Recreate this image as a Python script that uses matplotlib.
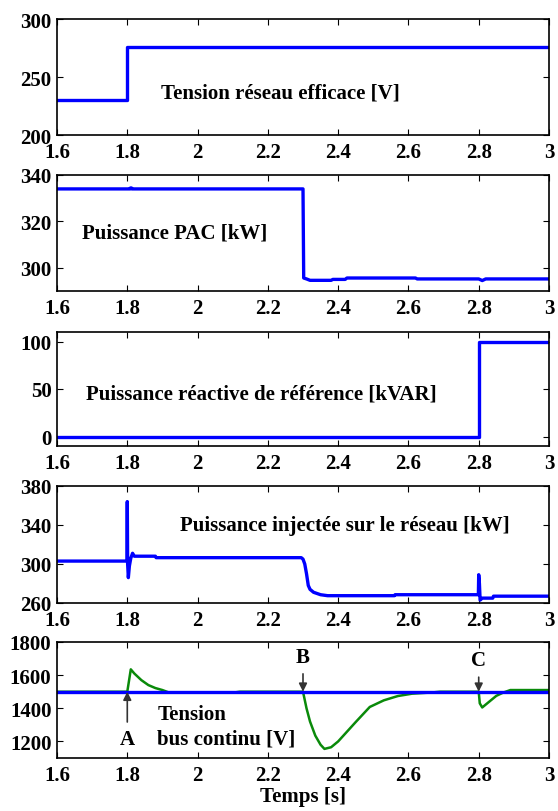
import matplotlib
matplotlib.use('Agg')
import matplotlib.pyplot as plt

plt.rcParams['font.family'] = ['Liberation Serif', 'DejaVu Serif']
plt.rcParams['font.weight'] = 'bold'
plt.rcParams['axes.labelweight'] = 'bold'
plt.rcParams['font.size'] = 15

# Tension reseau efficace [V]
t_grid = [1.6, 1.8, 1.8, 3.0]
v_grid = [230, 230, 276, 276]

# Puissance PAC [kW]
t_pac = [1.6, 1.808, 1.809, 1.812, 1.813, 2.3, 2.302, 2.31, 2.32, 2.38, 2.385, 2.42, 2.425,
         2.62, 2.625, 2.8, 2.81, 2.82, 3.0]
p_pac = [334, 334, 334.4, 334.4, 334, 334, 295.6, 295.2, 294.6, 294.6, 295.0, 295.0, 295.6,
         295.6, 295.2, 295.2, 294.5, 295.2, 295.2]

# Puissance reactive de reference [kVAR]
t_q = [1.6, 2.8, 2.8, 3.0]
q_ref = [0, 0, 100, 100]

# Puissance injectee sur le reseau [kW]
t_inj = [1.6, 1.799, 1.800, 1.801, 1.803, 1.806, 1.81, 1.815, 1.82, 1.88, 1.882, 2.295, 2.30,
         2.305, 2.31, 2.315, 2.32, 2.33, 2.35, 2.37, 2.56, 2.562, 2.799, 2.800, 2.802, 2.804,
         2.81, 2.84, 2.842, 3.0]
p_inj = [303, 303, 364, 300, 286, 298, 306, 311, 308, 308, 306.5, 306.5, 305,
         300, 290, 278, 274, 271, 268.5, 267.5, 267.5, 268.5, 268.5, 289, 280, 263,
         265, 265, 267, 267]

# Tension bus continu [V]
t_ref = [1.6, 3.0]
v_ref = [1500, 1500]
t_bus = [1.6, 1.8, 1.81, 1.82, 1.84, 1.86, 1.88, 1.9, 1.92, 2.1, 2.12, 2.3, 2.31, 2.32, 2.335,
         2.35, 2.361, 2.38, 2.4, 2.45, 2.49, 2.53, 2.57, 2.61, 2.67, 2.69, 2.8, 2.803, 2.81,
         2.83, 2.85, 2.87, 2.89, 3.0]
v_bus = [1500, 1500, 1635, 1610, 1570, 1540, 1522, 1510, 1494, 1494, 1500, 1500, 1400, 1320,
         1235, 1180, 1155, 1165, 1200, 1317, 1408, 1448, 1474, 1488, 1496, 1500, 1500, 1430,
         1405, 1440, 1475, 1495, 1510, 1510]

xticks = [1.6, 1.8, 2.0, 2.2, 2.4, 2.6, 2.8, 3.0]
xlabels = ['1.6', '1.8', '2', '2.2', '2.4', '2.6', '2.8', '3']

blue = '#0000ff'
green = '#0a8a0a'

fig = plt.figure(figsize=(5.58, 8.12), dpi=100)
W = 558.0
H = 812.0
left = 57 / W
width = (549 - 57) / W
boxes = [(20, 136), (176, 292), (333, 447), (487, 604), (643, 759)]
axes = []
for top, bot in boxes:
    ax = fig.add_axes([left, 1 - bot / H, width, (bot - top) / H])
    axes.append(ax)

def style(ax, ylim, yticks):
    ax.set_xlim(1.6, 3.0)
    ax.set_ylim(*ylim)
    ax.set_xticks(xticks)
    ax.set_xticklabels(xlabels)
    ax.set_yticks(yticks)
    ax.set_yticklabels([str(v) for v in yticks])
    ax.tick_params(direction='in', top=True, right=True, length=4, width=0.8, pad=4)
    ax.tick_params(axis='x', pad=5)
    for s in ax.spines.values():
        s.set_linewidth(1.2)

ax = axes[0]
ax.plot(t_grid, v_grid, color=blue, lw=2.4)
style(ax, (200, 300), [200, 250, 300])
ax.text(1.895, 237, 'Tension réseau efficace [V]', va='center', ha='left')

ax = axes[1]
ax.plot(t_pac, p_pac, color=blue, lw=2.4)
style(ax, (290, 340), [300, 320, 340])
ax.text(1.67, 315, 'Puissance PAC [kW]', va='center', ha='left')

ax = axes[2]
ax.plot(t_q, q_ref, color=blue, lw=2.4)
style(ax, (-10, 110), [0, 50, 100])
ax.text(1.683, 45, 'Puissance réactive de référence [kVAR]', va='center', ha='left')

ax = axes[3]
ax.plot(t_inj, p_inj, color=blue, lw=2.4)
style(ax, (260, 380), [260, 300, 340, 380])
ax.text(1.95, 340, 'Puissance injectée sur le réseau [kW]', va='center', ha='left')

ax = axes[4]
ax.plot(t_bus, v_bus, color=green, lw=1.8)
ax.plot(t_ref, v_ref, color=blue, lw=2.4)
style(ax, (1100, 1800), [1200, 1400, 1600, 1800])
ax.text(1.885, 1366, 'Tension', va='center', ha='left')
ax.text(1.885, 1215, 'bus continu [V]', va='center', ha='left')
arrow = dict(arrowstyle='-|>', color='0.2', lw=1.2, mutation_scale=12, shrinkA=3, shrinkB=0)
ax.annotate('A', xy=(1.8, 1500), xytext=(1.8, 1215), ha='center', va='center', arrowprops=arrow)
ax.annotate('B', xy=(2.3, 1500), xytext=(2.3, 1710), ha='center', va='center', arrowprops=arrow)
ax.annotate('C', xy=(2.8, 1500), xytext=(2.8, 1690), ha='center', va='center', arrowprops=arrow)
ax.set_xlabel('Temps [s]', labelpad=1)

fig.savefig('out.png', dpi=100)
